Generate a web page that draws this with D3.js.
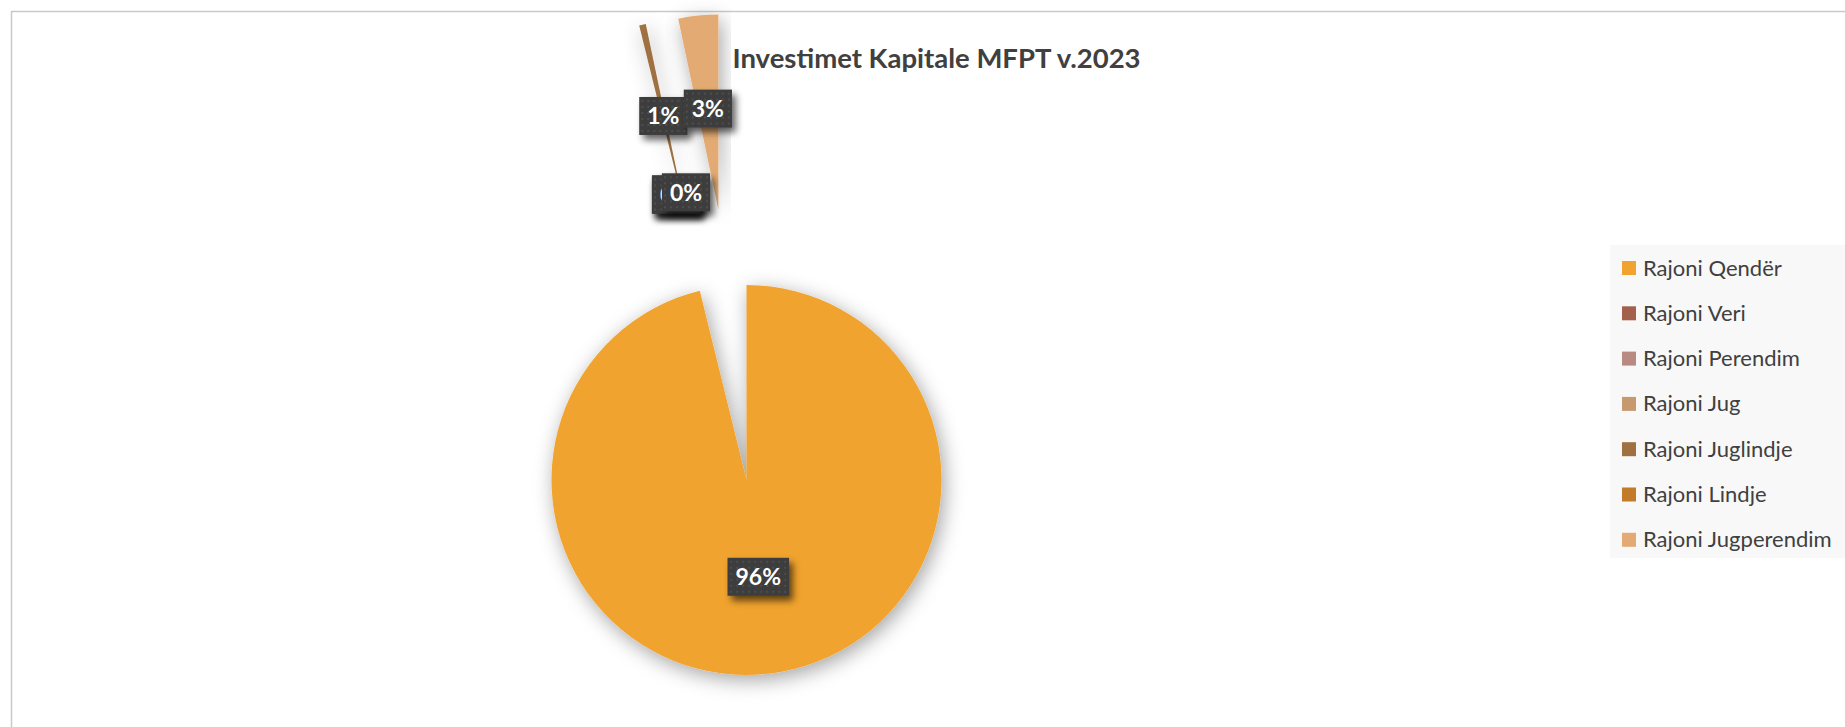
<!DOCTYPE html>
<html>
<head>
<meta charset="utf-8">
<script src="https://cdn.jsdelivr.net/npm/d3@7"></script>
<style>
  body { margin: 0; background: #fff; }
  svg { display: block; }
</style>
</head>
<body>
<div id="chart"></div>
<script>
// regions, in legend order
var regions = [
  "Rajoni Qendër",
  "Rajoni Veri",
  "Rajoni Perendim",
  "Rajoni Jug",
  "Rajoni Juglindje",
  "Rajoni Lindje",
  "Rajoni Jugperendim"
];
// share of capital investment (%)
var shares = [96.15, 0, 0, 0, 0.55, 0, 3.3];
var colors = ["#F0A32F", "#A3614D", "#B98B80", "#C6996E", "#9E7042", "#C17B29", "#E3AB73"];
var title = "Investimet Kapitale MFPT v.2023";

var width = 1845, height = 727;
var cx = 746.5, cy = 480, radius = 195;
var explode = 272;

var svg = d3.select("#chart")
  .append("svg")
    .attr("width", width)
    .attr("height", height);

var defs = svg.append("defs");

// soft shadow for the slices
var f1 = defs.append("filter").attr("id", "sliceShadow")
  .attr("x", "-30%").attr("y", "-30%").attr("width", "160%").attr("height", "160%");
f1.append("feDropShadow")
  .attr("dx", 3).attr("dy", 5).attr("stdDeviation", 10)
  .attr("flood-color", "#000").attr("flood-opacity", 0.36);

// harder shadow for the label boxes
var f2 = defs.append("filter").attr("id", "labelShadow")
  .attr("x", "-30%").attr("y", "-30%").attr("width", "170%").attr("height", "170%");
f2.append("feDropShadow")
  .attr("dx", 4).attr("dy", 5).attr("stdDeviation", 3.5)
  .attr("flood-color", "#000").attr("flood-opacity", 0.6);

// dotted dark fill for the labels
var pat = defs.append("pattern").attr("id", "dots")
  .attr("patternUnits", "userSpaceOnUse").attr("width", 6).attr("height", 6);
pat.append("rect").attr("width", 6).attr("height", 6).attr("fill", "#3d3d3d");
pat.append("circle").attr("cx", 3).attr("cy", 3).attr("r", 0.9).attr("fill", "#555");

// chart area border
svg.append("rect")
  .attr("x", 11.5).attr("y", 11.5)
  .attr("width", width + 20).attr("height", height + 20)
  .attr("fill", "none")
  .attr("stroke", "#c9c9c9")
  .attr("stroke-width", 1.5);

var data = regions.map(function(r, i) { return { name: r, value: shares[i], color: colors[i] }; });
var total = d3.sum(shares);
var pct = d3.format(".0%");

var pie = d3.pie().sort(null).value(function(d) { return d.value; });
var arcs = pie(data);

var arc = d3.arc().innerRadius(0).outerRadius(radius);

function offset(d) {
  if (d.index === 0) return [0, 0];
  var a = (d.startAngle + d.endAngle) / 2;
  return [Math.sin(a) * explode, -Math.cos(a) * explode];
}

var g = svg.append("g").attr("transform", "translate(" + cx + "," + cy + ")");

g.selectAll("path.slice")
  .data(arcs)
  .enter()
  .append("path")
    .attr("class", "slice")
    .attr("d", arc)
    .attr("transform", function(d) { var o = offset(d); return "translate(" + o[0] + "," + o[1] + ")"; })
    .attr("fill", function(d) { return d.data.color; })
    .attr("filter", "url(#sliceShadow)");

// data labels
var labels = g.selectAll("g.lbl")
  .data(arcs)
  .enter()
  .append("g")
    .attr("class", "lbl")
    .attr("transform", function(d) {
      var o = offset(d);
      var a = (d.startAngle + d.endAngle) / 2;
      var dist = d.index === 0 ? radius * 0.5 : (d.data.value > 0 ? radius * 0.52 : 22);
      return "translate(" + (o[0] + Math.sin(a) * dist) + "," + (o[1] - Math.cos(a) * dist) + ")";
    });

labels.append("rect").attr("class", "box");
labels.append("text")
  .attr("text-anchor", "middle")
  .attr("dy", "0.36em")
  .style("font-family", "Lato, 'Open Sans', sans-serif")
  .style("font-weight", "bold")
  .style("font-size", "23px")
  .style("fill", "#fff")
  .text(function(d) { return pct(d.data.value / total); });

labels.each(function() {
  var t = d3.select(this).select("text");
  var w = t.node().getComputedTextLength();
  d3.select(this).select("rect")
    .attr("x", -w / 2 - 8).attr("y", -19)
    .attr("width", w + 16).attr("height", 38)
    .attr("fill", "url(#dots)")
    .attr("filter", "url(#labelShadow)");
});

// title
svg.append("text")
  .attr("x", 936.5).attr("y", 68)
  .attr("text-anchor", "middle")
  .style("font-family", "Lato, 'Open Sans', sans-serif")
  .style("font-weight", "bold")
  .style("font-size", "27.5px")
  .style("fill", "#404040")
  .text(title);

// legend
var legend = svg.append("g").attr("transform", "translate(1610,245)");
legend.append("rect")
  .attr("width", 240).attr("height", 313)
  .attr("fill", "#f8f8f8");

var items = legend.selectAll("g.item")
  .data(data)
  .enter()
  .append("g")
    .attr("class", "item")
    .attr("transform", function(d, i) { return "translate(12," + (16 + i * 45.3) + ")"; });

items.append("rect")
  .attr("width", 14).attr("height", 14)
  .attr("fill", function(d) { return d.color; });

items.append("text")
  .attr("x", 21).attr("y", 14.5)
  .style("font-family", "Lato, 'Open Sans', sans-serif")
  .style("font-size", "22px")
  .style("fill", "#404040")
  .text(function(d) { return d.name; });
</script>
</body>
</html>
